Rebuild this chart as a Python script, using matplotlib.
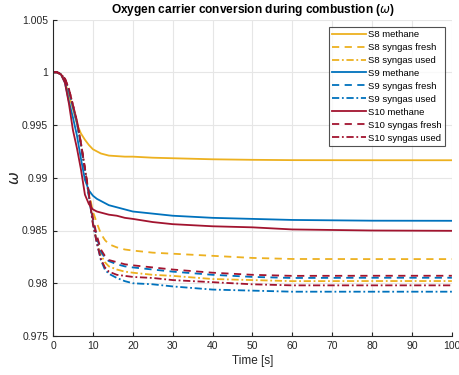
import numpy as np
import matplotlib.pyplot as plt

plt.rcParams['font.family'] = ['Liberation Sans', 'DejaVu Sans']

# time points [s]
t = [0, 1, 2, 3, 4, 5, 6, 7, 8, 9, 10, 11, 12, 13, 14, 16, 18, 20, 25, 30, 40, 50, 60, 80, 100]

s8_methane = [1, 1, 0.9998, 0.9991, 0.9978, 0.9965, 0.9951, 0.9942, 0.9936, 0.9931, 0.9927, 0.9925, 0.9923,
              0.9922, 0.9921, 0.99205, 0.9920, 0.9920, 0.9919, 0.99185, 0.99175, 0.9917, 0.99167, 0.99166, 0.99166]
s8_fresh = [1, 1, 0.9998, 0.9993, 0.9982, 0.9968, 0.9953, 0.9932, 0.9908, 0.9886, 0.9868, 0.9857, 0.9847,
            0.9841, 0.9837, 0.9834, 0.9832, 0.9831, 0.9829, 0.9828, 0.9826, 0.9824, 0.9823, 0.98229, 0.98229]
s8_used = [1, 1, 0.9998, 0.9993, 0.9982, 0.9968, 0.9953, 0.9932, 0.9908, 0.9884, 0.9858, 0.9840, 0.9827,
           0.9820, 0.9816, 0.9813, 0.9811, 0.9810, 0.9808, 0.9807, 0.9804, 0.9803, 0.9802, 0.98021, 0.98021]

s9_methane = [1, 1, 0.9998, 0.9990, 0.9972, 0.9957, 0.9940, 0.9918, 0.9898, 0.9888, 0.9883, 0.9880, 0.9878,
              0.9876, 0.9874, 0.9872, 0.9870, 0.9868, 0.9866, 0.9864, 0.9862, 0.9861, 0.9860, 0.98593, 0.98592]
s9_fresh = [1, 1, 0.9998, 0.9993, 0.9982, 0.9967, 0.9952, 0.9931, 0.9907, 0.9883, 0.9860, 0.9843, 0.9830,
            0.9824, 0.9821, 0.9818, 0.9816, 0.9815, 0.9813, 0.9811, 0.9808, 0.9806, 0.9805, 0.98052, 0.98052]
s9_used = [1, 1, 0.9998, 0.9993, 0.9982, 0.9967, 0.9952, 0.9931, 0.9907, 0.9882, 0.9857, 0.9838, 0.9822,
           0.9813, 0.9809, 0.9805, 0.9802, 0.9800, 0.9799, 0.9797, 0.9794, 0.9793, 0.9792, 0.97920, 0.97920]

s10_methane = [1, 1, 0.9998, 0.9990, 0.9970, 0.9945, 0.9928, 0.9908, 0.9884, 0.9875, 0.9870, 0.9868, 0.9867,
               0.9866, 0.9865, 0.9864, 0.9862, 0.9861, 0.9858, 0.9856, 0.9854, 0.9853, 0.9851, 0.98500, 0.98497]
s10_fresh = [1, 1, 0.9998, 0.9994, 0.9984, 0.9969, 0.9954, 0.9933, 0.9909, 0.9885, 0.9862, 0.9845, 0.9832,
             0.9826, 0.9822, 0.9820, 0.9818, 0.9817, 0.9815, 0.9813, 0.9810, 0.9808, 0.9807, 0.98071, 0.98071]
s10_used = [1, 1, 0.9998, 0.9994, 0.9984, 0.9969, 0.9954, 0.9933, 0.9909, 0.9884, 0.9856, 0.9838, 0.9823,
            0.9815, 0.9811, 0.9808, 0.9807, 0.9806, 0.9805, 0.9803, 0.9801, 0.9799, 0.9798, 0.97980, 0.97980]

yellow = "#EDB120"
blue = "#0072BD"
red = "#A2142F"

fig = plt.figure(figsize=(4.59, 3.75), dpi=100)
ax = fig.add_axes([0.1155, 0.104, 0.869, 0.844])

lw = 1.3
dash = (0, (4, 3))
dashdot = (0, (4, 1.5, 1, 1.5))

ax.plot(t, s8_methane, color=yellow, lw=lw, ls='-', label='S8 methane')
ax.plot(t, s8_fresh, color=yellow, lw=lw, ls=dash, label='S8 syngas fresh')
ax.plot(t, s8_used, color=yellow, lw=lw, ls=dashdot, label='S8 syngas used')
ax.plot(t, s9_methane, color=blue, lw=lw, ls='-', label='S9 methane')
ax.plot(t, s9_fresh, color=blue, lw=lw, ls=dash, label='S9 syngas fresh')
ax.plot(t, s9_used, color=blue, lw=lw, ls=dashdot, label='S9 syngas used')
ax.plot(t, s10_methane, color=red, lw=lw, ls='-', label='S10 methane')
ax.plot(t, s10_fresh, color=red, lw=lw, ls=dash, label='S10 syngas fresh')
ax.plot(t, s10_used, color=red, lw=lw, ls=dashdot, label='S10 syngas used')

ax.set_xlim(0, 100)
ax.set_ylim(0.975, 1.005)
ax.set_xticks(np.arange(0, 101, 10))
ax.set_yticks([0.975, 0.98, 0.985, 0.99, 0.995, 1, 1.005])
ax.set_yticklabels(['0.975', '0.98', '0.985', '0.99', '0.995', '1', '1.005'])

ax.grid(True, color='#e6e6e6', lw=0.8)
ax.set_axisbelow(True)
for s in ['top', 'right']:
    ax.spines[s].set_visible(False)
for s in ['left', 'bottom']:
    ax.spines[s].set_color('#262626')
    ax.spines[s].set_linewidth(0.8)
ax.tick_params(direction='in', length=3, width=0.8, colors='#262626', labelsize=7.5, labelcolor='#262626')

ax.set_xlabel('Time [s]', fontsize=8.5, color='#262626', labelpad=3)
ax.set_ylabel(r'$\omega$', fontsize=11, color='#262626', labelpad=0)
ax.set_title(r'Oxygen carrier conversion during combustion ($\omega$)', fontsize=8.6, fontweight='bold', pad=5)

leg = ax.legend(loc='upper right', fontsize=6.8, frameon=True, fancybox=False, handlelength=3.6,
                handletextpad=0.2, labelspacing=0.42, borderpad=0.35, borderaxespad=0.75)
leg.get_frame().set_edgecolor('#262626')
leg.get_frame().set_linewidth(0.8)

fig.savefig('out.png', dpi=100)
